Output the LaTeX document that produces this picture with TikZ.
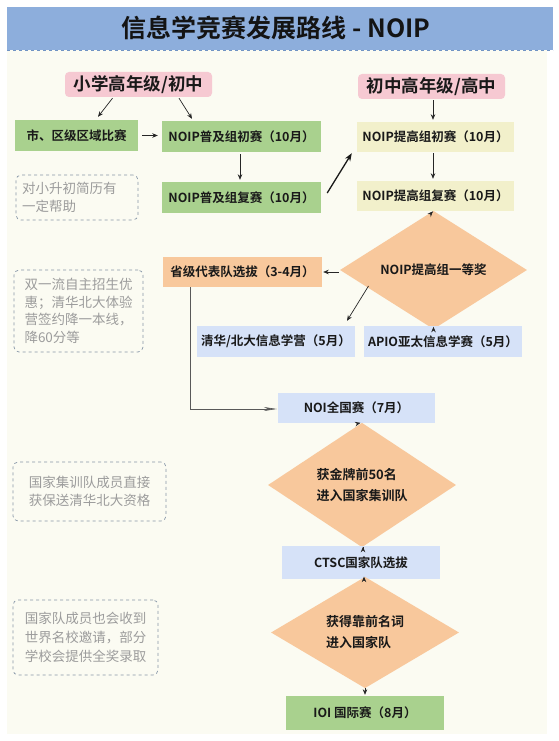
\documentclass[tikz,border=0pt]{standalone}
\usepackage{fontspec}
\setmainfont{Noto Sans CJK SC}[BoldFont={Noto Sans CJK SC Bold}]
\usetikzlibrary{shapes.geometric,arrows.meta,calc}
\definecolor{hdr}{HTML}{8DAEDC}
\definecolor{hdrline}{HTML}{7093C4}
\definecolor{panel}{HTML}{FBFBF2}
\definecolor{pinkc}{HTML}{F6C9D2}
\definecolor{greenc}{HTML}{A9D18E}
\definecolor{yellowc}{HTML}{F2F0CB}
\definecolor{orangec}{HTML}{F8C89C}
\definecolor{bluec}{HTML}{D6E2F8}
\definecolor{notebd}{HTML}{8796A8}
\definecolor{notetx}{HTML}{9C9C9C}
\begin{document}
\begin{tikzpicture}[x=1pt,y=-1pt,
  box/.style={rectangle, inner sep=0pt, minimum width=158pt, minimum height=31pt,
    font=\fontsize{12.5}{15}\selectfont\bfseries, text=black!90},
  stage/.style={rectangle, rounded corners=4pt, fill=pinkc, inner sep=0pt,
    minimum width=147pt, minimum height=25pt, font=\fontsize{17.5}{20}\selectfont\bfseries, text=black!90},
  dia/.style={diamond, fill=orangec, inner sep=0pt, minimum width=188pt, minimum height=77pt,
    font=\fontsize{13}{21}\selectfont\bfseries, text=black!90, align=left},
  note/.style={rectangle, rounded corners=5pt, draw=notebd, dashed, line width=0.7pt,
    text=notetx, font=\fontsize{13.5}{17.5}\selectfont, align=left, inner sep=0pt},
  arr/.style={draw=black!85, line width=0.7pt, -{Stealth[length=5.5pt,width=4.5pt]}},
  thickarr/.style={draw=black!90, line width=1.3pt, -{Stealth[length=8pt,width=6pt]}},
  longarr/.style={draw=black!65, line width=0.6pt, -{Stealth[length=13pt,width=4pt,inset=4pt]}}
]
\useasboundingbox (0,0) rectangle (559,741);
\fill[white] (0,0) rectangle (559,741);
\fill[panel] (7,48) rectangle (547,734);
\fill[hdr] (7,7) rectangle (553,50);
\draw[hdrline, dashed, line width=0.6pt] (7,50) -- (553,50);
\node[font=\fontsize{25}{30}\selectfont\bfseries, text=black!92] (title) at (276,28) {信息学竞赛发展路线 - NOIP};

% stages
\node[stage] (p1) at (138.5,84.5) {小学高年级/初中};
\node[stage] (p2) at (431.5,86.5) {初中高年级/高中};

% left column
\node[box, fill=greenc, minimum width=123pt] (g1) at (76.5,135.5) {市、区级区域比赛};
\node[box, fill=greenc, minimum width=159pt] (g2) at (241.5,136.5) {NOIP普及组初赛（10月）};
\node[box, fill=greenc, minimum width=159pt] (g3) at (241.5,197.5) {NOIP普及组复赛（10月）};

% right column
\node[box, fill=yellowc, minimum width=157pt, minimum height=30pt] (y1) at (435.5,137) {NOIP提高组初赛（10月）};
\node[box, fill=yellowc, minimum width=157pt, minimum height=30pt] (y2) at (435.5,196) {NOIP提高组复赛（10月）};

\node[dia, minimum width=187pt, minimum height=74pt, font=\fontsize{12.5}{15}\selectfont\bfseries] (d1) at (433.5,270) {NOIP提高组一等奖};
\node[box, fill=orangec, minimum width=159pt, minimum height=30pt] (o1) at (242.5,272) {省级代表队选拔（3-4月）};
\node[box, fill=bluec] (b1) at (276,341.5) {清华/北大信息学营（5月）};
\node[box, fill=bluec] (b2) at (443,341.5) {APIO亚太信息学赛（5月）};
\node[box, fill=bluec, minimum width=157pt, minimum height=30pt] (b3) at (356.5,408) {NOI全国赛（7月）};

\node[dia] (d2) at (362,485) {获金牌前50名\\进入国家集训队};
\node[box, fill=bluec, minimum height=33pt] (c1) at (361,562.5) {CTSC国家队选拔};
\node[dia] (d3) at (365,632.5) {获得靠前名词\\进入国家队};
\node[box, fill=greenc, minimum height=34pt] (i1) at (365,713) {IOI 国际赛（8月）};

% notes
\node[note, minimum width=122pt, minimum height=45pt, text width=110pt] (n1) at (77,197.5) {对小升初简历有\\一定帮助};
\node[note, minimum width=129pt, minimum height=82pt] (n2) at (78.5,311) {双一流自主招生优\\惠；清华北大体验\\营签约降一本线，\\降60分等};
\node[note, minimum width=153pt, minimum height=59pt, font=\fontsize{13.5}{18.5}\selectfont] (n3) at (89.5,491.5) {国家集训队成员直接\\获保送清华北大资格};
\node[note, minimum width=145pt, minimum height=75pt, font=\fontsize{13.5}{19}\selectfont] (n4) at (85.5,637.5) {国家队成员也会收到\\世界名校邀请，部分\\学校会提供全奖录取};

% connectors
\draw[arr] ($(p1.south)+(-26,1)$) -- ($(g1.north)+(21.5,-3)$);
\draw[arr] ($(p1.south)+(40.5,1)$) -- ($(g2.north)+(-49.5,-2)$);
\draw[arr, shorten <=4pt, shorten >=4pt] (g1.east) -- (g1.east -| g2.west);
\draw[arr, shorten <=2pt, shorten >=2pt] ($(g2.south)+(-1.5,0)$) -- ($(g3.north)+(-1.5,0)$);
\draw[thickarr] ($(g3.east)+(6,-4.5)$) -- ($(y1.south west)+(-5,1)$);
\draw[arr, shorten <=1pt, shorten >=2pt] ($(p2.south)+(1.5,0)$) -- ($(y1.north)+(-2.5,0)$);
\draw[arr, shorten <=1pt, shorten >=2pt] ($(y1.south)+(-2.5,0)$) -- ($(y2.north)+(-2.5,0)$);
\draw[arr, shorten <=1pt, shorten >=1pt] ($(y2.south)+(-2.5,0)$) -- ($(d1.north)+(0,0)$);
\draw[arr, shorten >=1pt] ($(d1.west)+(-1,2)$) -- ($(o1.east)+(0,0)$);
\draw[arr] ($(d1.center)+(-65,16)$) -- ($(b1.north)+(71,-5)$);
\draw[arr, shorten >=1pt] (d1.south) -- (d1.south |- b2.north);
\draw[longarr] ($(o1.south west)+(27,0)$) |- ($(b3.west)+(-1,1)$);
\draw[arr, shorten <=1pt, shorten >=1pt] ($(b3.south)+(2.5,0)$) -- ($(d2.north)+(-0.5,0)$);
\draw[arr, shorten >=1pt] ($(d2.south)+(1,0)$) -- ($(c1.north)+(2,0)$);
\draw[arr, shorten <=1pt, shorten >=0pt] ($(c1.south)+(3,0)$) -- ($(d3.north)+(-1,0)$);
\draw[arr, shorten >=1pt] (d3.south) -- (i1.north);
\end{tikzpicture}
\end{document}
